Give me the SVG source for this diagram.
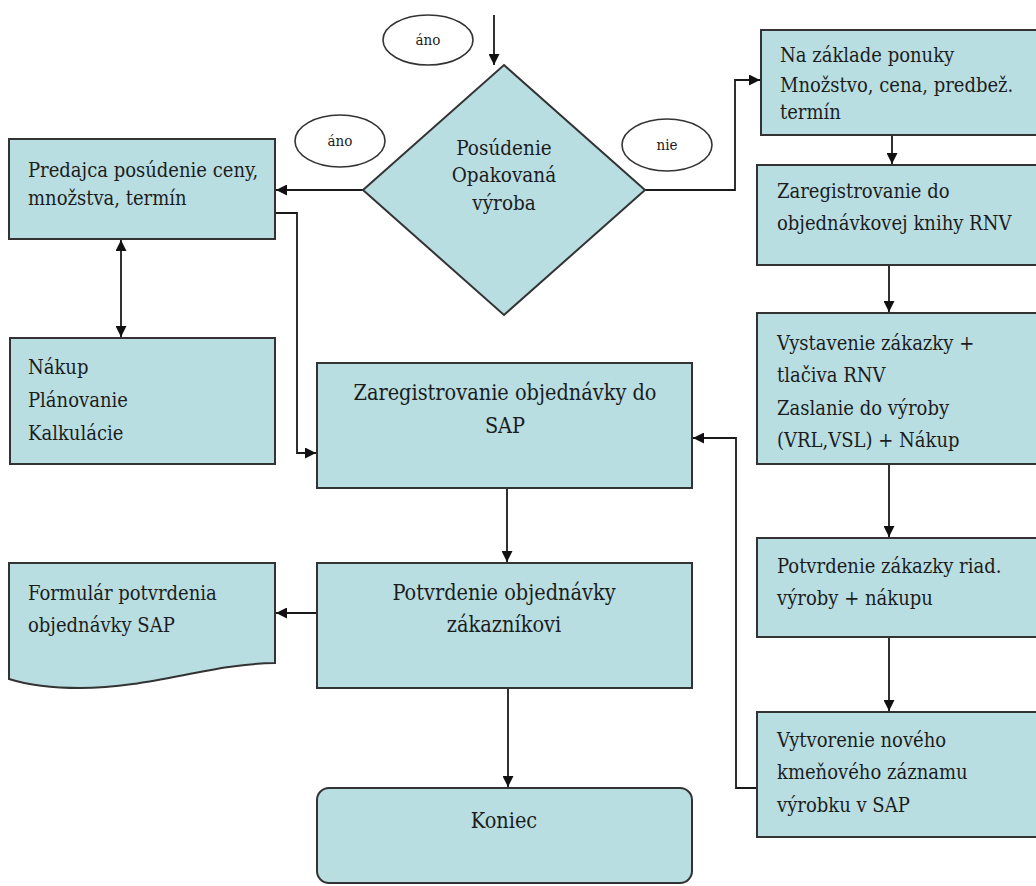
<svg xmlns="http://www.w3.org/2000/svg" width="1036" height="886" viewBox="0 0 1036 886">
<style>
.box{fill:#b8dee2;stroke:#333;stroke-width:2}
.ell{fill:#fff;stroke:#333;stroke-width:1.6}
.t{font-family:'DejaVu Serif Condensed','DejaVu Serif',serif;font-size:20px;fill:#1c1c1c}
.tc{font-family:'DejaVu Serif Condensed','DejaVu Serif',serif;font-size:21.5px;text-anchor:middle;fill:#1c1c1c}
.td{font-family:'DejaVu Serif Condensed','DejaVu Serif',serif;font-size:20.5px;text-anchor:middle;fill:#1c1c1c}
.ts{font-family:'DejaVu Serif Condensed','DejaVu Serif',serif;font-size:15px;text-anchor:middle;fill:#1c1c1c}
.c{fill:none;stroke:#1a1a1a;stroke-width:1.8}
</style>
<defs>
<marker id="ah" viewBox="0 0 10 10" refX="10" refY="5" markerWidth="11" markerHeight="11" markerUnits="userSpaceOnUse" orient="auto-start-reverse">
<path d="M0,0 L10,5 L0,10 z" fill="#111"/>
</marker>
</defs>
<g id="connectors">
<path class="c" d="M494,15 V65" marker-end="url(#ah)"/>
<path class="c" d="M363,190 H276" marker-end="url(#ah)"/>
<path class="c" d="M645,190 H735 V80 H760" marker-end="url(#ah)"/>
<path class="c" d="M121,240 V337" marker-start="url(#ah)" marker-end="url(#ah)"/>
<path class="c" d="M276,213 H297 V453 H316" marker-end="url(#ah)"/>
<path class="c" d="M892,136 V164" marker-end="url(#ah)"/>
<path class="c" d="M889,266 V312" marker-end="url(#ah)"/>
<path class="c" d="M889,465 V537" marker-end="url(#ah)"/>
<path class="c" d="M889,638 V711" marker-end="url(#ah)"/>
<path class="c" d="M757,788 H736 V438 H693" marker-end="url(#ah)"/>
<path class="c" d="M507,489 V562" marker-end="url(#ah)"/>
<path class="c" d="M317,613 H276" marker-end="url(#ah)"/>
<path class="c" d="M508,689 V787" marker-end="url(#ah)"/>
</g>
<g id="label-ano-top">
<ellipse class="ell" cx="428" cy="40" rx="45" ry="25"/>
<text class="ts" x="428" y="45">áno</text>
</g>
<g id="label-ano-left">
<ellipse class="ell" cx="340" cy="141" rx="45" ry="26"/>
<text class="ts" x="340" y="146">áno</text>
</g>
<g id="label-nie">
<ellipse class="ell" cx="667" cy="145" rx="45" ry="26"/>
<text class="ts" x="667" y="150">nie</text>
</g>
<g id="decision">
<polygon class="box" points="504,65 645,190 504,315 363,190"/>
<text class="td" x="504" y="155">Posúdenie</text>
<text class="td" x="504" y="182">Opakovaná</text>
<text class="td" x="504" y="210">výroba</text>
</g>
<g id="predajca">
<rect class="box" x="9" y="139" width="266" height="100"/>
<text class="t" x="28" y="177">Predajca posúdenie ceny,</text>
<text class="t" x="28" y="205">množstva, termín</text>
</g>
<g id="nakup">
<rect class="box" x="10" y="338" width="265" height="126"/>
<text class="t" x="28" y="374">Nákup</text>
<text class="t" x="28" y="407">Plánovanie</text>
<text class="t" x="28" y="440">Kalkulácie</text>
</g>
<g id="zaregistrovanie-sap">
<rect class="box" x="317" y="363" width="375" height="125"/>
<text class="tc" x="505" y="400">Zaregistrovanie objednávky do</text>
<text class="tc" x="505" y="433">SAP</text>
</g>
<g id="formular">
<path class="box" d="M9,563 H275 V663 C210,664 150,688 80,688 C50,688 25,684 9,679 Z"/>
<text class="t" x="28" y="600">Formulár potvrdenia</text>
<text class="t" x="28" y="632">objednávky SAP</text>
</g>
<g id="potvrdenie-objednavky">
<rect class="box" x="317" y="563" width="375" height="125"/>
<text class="tc" x="504" y="600">Potvrdenie objednávky</text>
<text class="tc" x="504" y="632">zákazníkovi</text>
</g>
<g id="koniec">
<rect class="box" x="317" y="788" width="375" height="95" rx="12"/>
<text class="tc" x="504" y="828">Koniec</text>
</g>
<g id="na-zaklade">
<rect class="box" x="761" y="30" width="285" height="105"/>
<text class="t" x="780" y="62">Na základe ponuky</text>
<text class="t" x="780" y="92">Množstvo, cena, predbež.</text>
<text class="t" x="780" y="119">termín</text>
</g>
<g id="zaregistrovanie-rnv">
<rect class="box" x="757" y="165" width="290" height="100"/>
<text class="t" x="777" y="198">Zaregistrovanie do</text>
<text class="t" x="777" y="230">objednávkovej knihy RNV</text>
</g>
<g id="vystavenie">
<rect class="box" x="757" y="313" width="290" height="151"/>
<text class="t" x="777" y="350">Vystavenie zákazky +</text>
<text class="t" x="777" y="382">tlačiva RNV</text>
<text class="t" x="777" y="415">Zaslanie do výroby</text>
<text class="t" x="777" y="447">(VRL,VSL) + Nákup</text>
</g>
<g id="potvrdenie-zakazky">
<rect class="box" x="757" y="538" width="290" height="99"/>
<text class="t" x="777" y="573">Potvrdenie zákazky riad.</text>
<text class="t" x="777" y="605">výroby + nákupu</text>
</g>
<g id="vytvorenie">
<rect class="box" x="757" y="712" width="290" height="125"/>
<text class="t" x="777" y="747">Vytvorenie nového</text>
<text class="t" x="777" y="779">kmeňového záznamu</text>
<text class="t" x="777" y="812">výrobku v SAP</text>
</g>
</svg>
